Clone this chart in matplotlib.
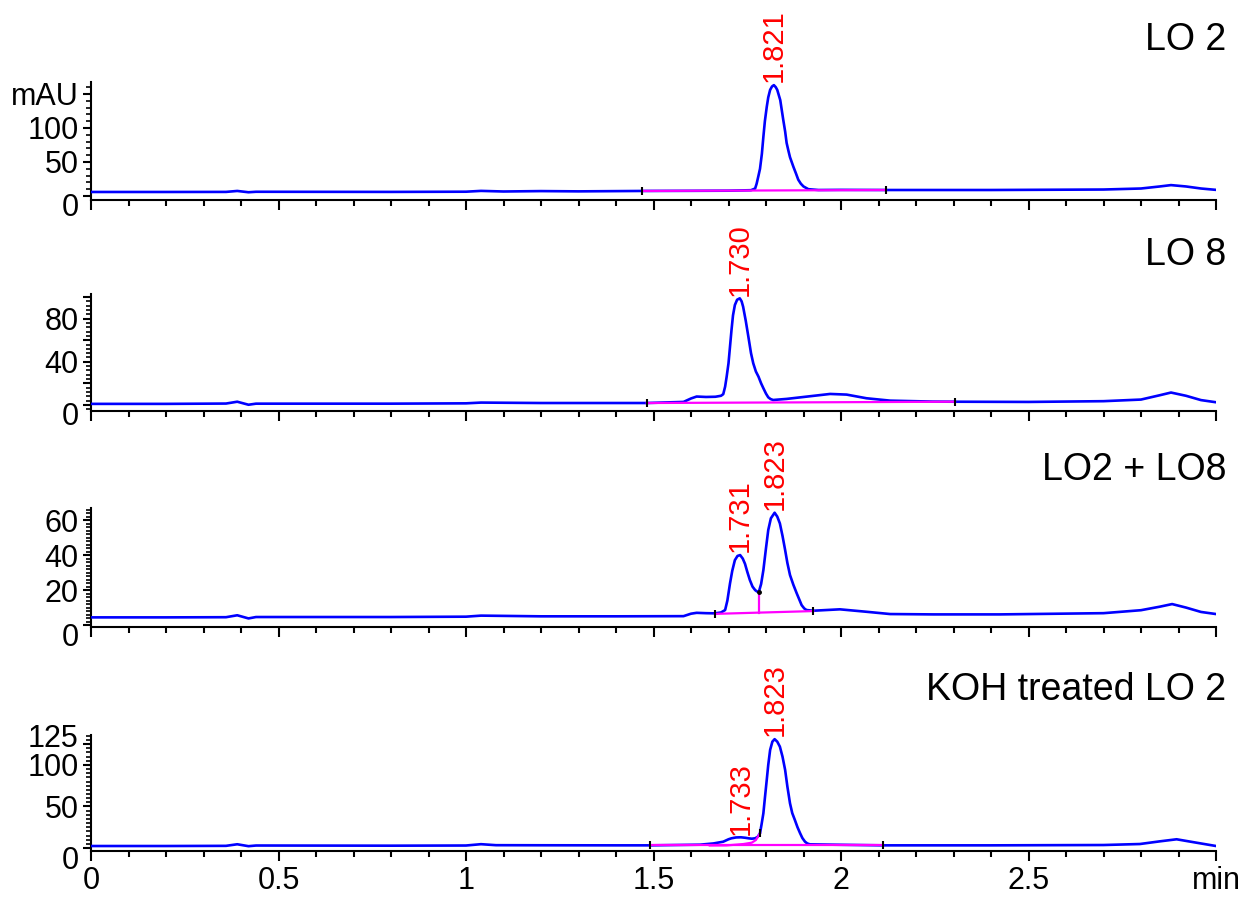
import numpy as np
import matplotlib.pyplot as plt
import matplotlib.transforms as mtransforms
from matplotlib.ticker import MultipleLocator

plt.rcParams['font.family'] = ['Liberation Sans', 'DejaVu Sans']

# ---------- chromatogram traces (time in min, signal in mAU) ----------
t_lo2 = [0.00, 0.20, 0.36, 0.39, 0.42, 0.44, 0.80, 1.00, 1.04, 1.10, 1.20, 1.30,
         1.47, 1.60, 1.70, 1.76, 1.771, 1.775, 1.780, 1.784, 1.789, 1.793, 1.797,
         1.802, 1.806, 1.811, 1.816, 1.821, 1.826, 1.830, 1.838, 1.846, 1.851,
         1.855, 1.860, 1.864, 1.873, 1.880, 1.886, 1.893, 1.900, 1.913, 1.94, 2.00,
         2.12, 2.40, 2.70, 2.80, 2.85, 2.88, 2.92, 2.96, 3.00]
y_lo2 = [5.9, 5.9, 6.0, 7.4, 5.5, 6.2, 6.0, 6.3, 7.5, 6.6, 7.2, 6.8,
         7.4, 7.6, 7.8, 8.5, 11.0, 18.0, 30.0, 40.0, 62.0, 87.0, 110.0,
         131.0, 145.0, 156.0, 161.0, 163.0, 160.0, 156.0, 141.0, 112.0, 95.0,
         78.0, 66.0, 57.0, 43.0, 33.0, 24.0, 18.0, 14.0, 10.0, 8.8, 9.0,
         8.8, 8.8, 9.5, 11.0, 14.0, 16.0, 14.0, 11.0, 9.0]

t_lo8 = [0.00, 0.20, 0.36, 0.39, 0.42, 0.44, 0.80, 1.00, 1.04, 1.20, 1.482, 1.580,
         1.600, 1.615, 1.640, 1.665, 1.680, 1.686, 1.691, 1.695, 1.700, 1.704,
         1.708, 1.712, 1.717, 1.723, 1.730, 1.735, 1.739, 1.746, 1.753, 1.760,
         1.766, 1.773, 1.780, 1.787, 1.793, 1.800, 1.806, 1.812, 1.819, 1.855,
         1.908, 1.971, 2.015, 2.068, 2.131, 2.246, 2.304, 2.50, 2.70, 2.80, 2.85,
         2.88, 2.92, 2.96, 3.00]
y_lo8 = [1.0, 1.0, 1.3, 3.0, 0.2, 1.2, 1.2, 1.5, 2.2, 1.8, 1.8, 2.8,
         6.0, 7.8, 7.4, 7.6, 8.5, 10.0, 17.0, 26.0, 38.6, 54.0,
         69.4, 83.0, 92.6, 97.5, 98.8, 96.0, 91.0, 78.0, 63.2, 48.0,
         38.6, 31.0, 26.2, 20.0, 15.5, 10.5, 7.1, 5.5, 4.6, 5.6,
         7.7, 10.2, 9.6, 6.2, 4.0, 3.1, 3.0, 2.8, 3.5, 5.0, 9.0,
         11.5, 8.5, 4.5, 2.5]

t_mix = [0.00, 0.20, 0.36, 0.39, 0.42, 0.44, 0.80, 1.00, 1.04, 1.20, 1.40, 1.580,
         1.600, 1.615, 1.640, 1.664, 1.680, 1.691, 1.697, 1.704, 1.710, 1.717,
         1.724, 1.731, 1.738, 1.744, 1.750, 1.757, 1.764, 1.771, 1.776, 1.781,
         1.787, 1.793, 1.800, 1.806, 1.813, 1.823, 1.830, 1.837, 1.844, 1.851,
         1.857, 1.864, 1.873, 1.882, 1.889, 1.895, 1.902, 1.908, 1.926,
         1.997, 2.068, 2.131, 2.246, 2.424, 2.70, 2.80, 2.85, 2.883, 2.92, 2.96, 3.00]
y_mix = [4.4, 4.4, 4.5, 5.6, 3.8, 4.6, 4.6, 4.8, 5.4, 5.0, 5.0, 5.1,
         6.5, 7.0, 6.8, 6.7, 7.2, 8.6, 14.0, 23.8, 31.0, 37.1,
         39.5, 40.0, 38.0, 35.0, 30.5, 25.7, 22.0, 20.0, 19.2, 19.0,
         23.5, 31.4, 44.0, 54.3, 61.0, 64.2, 62.0, 58.1, 51.0, 42.9,
         35.5, 28.6, 23.0, 18.1, 14.5, 11.4, 9.5, 8.6, 8.2,
         9.0, 7.6, 6.3, 6.1, 6.1, 6.8, 8.5, 10.5, 12.0, 10.0, 7.5, 6.3]

t_koh = [0.00, 0.20, 0.36, 0.39, 0.42, 0.44, 0.80, 1.00, 1.04, 1.08, 1.20, 1.40,
         1.491, 1.624, 1.660, 1.686, 1.700, 1.708, 1.720, 1.733, 1.745, 1.753,
         1.762, 1.771, 1.778, 1.784, 1.788, 1.793, 1.797, 1.802, 1.806, 1.811,
         1.817, 1.823, 1.830, 1.837, 1.844, 1.851, 1.857, 1.864, 1.870, 1.877,
         1.884, 1.891, 1.897, 1.904, 1.910, 1.917, 1.979,
         2.113, 2.40, 2.70, 2.797, 2.85, 2.895, 2.94, 3.00]
y_koh = [2.4, 2.4, 2.6, 4.5, 2.2, 3.0, 2.8, 3.0, 4.6, 3.4, 3.3, 3.2,
         3.2, 4.0, 5.5, 7.6, 10.5, 11.7, 12.7, 12.9, 12.3, 11.7,
         11.2, 11.7, 13.5, 17.7, 28.0, 41.8, 60.0, 82.0, 100.0, 118.0,
         128.0, 131.0, 128.0, 122.0, 110.0, 94.0, 74.0, 53.8, 42.0, 33.7,
         25.0, 17.7, 12.0, 7.6, 5.5, 4.4, 4.0,
         3.2, 3.2, 3.6, 4.8, 8.0, 10.5, 7.0, 2.4]

# integration baselines (magenta) and their end markers
base_lo2 = ([1.47, 2.12], [7.4, 8.8])
base_lo8 = ([1.482, 2.304], [1.8, 3.0])
base_mix = ([1.664, 1.926], [6.4, 8.0])
base_koh = ([1.491, 2.113], [3.2, 3.2])
skim_koh = ([1.650, 1.695, 1.740, 1.762, 1.773, 1.784], [3.0, 3.1, 4.8, 6.4, 9.6, 17.7])
drop_mix = (1.781, 7.1, 19.0)   # drop line: time, low, high

# retention times of labelled peaks
peaks_lo2 = [1.821]
peaks_lo8 = [1.730]
peaks_mix = [1.731, 1.823]
peaks_koh = [1.733, 1.823]

titles = ["LO 2", "LO 8", "LO2 + LO8", "KOH treated LO 2"]
x_ticks = [0, 0.5, 1, 1.5, 2, 2.5, 3.0]
x_ticklabels = ["0", "0.5", "1", "1.5", "2", "2.5", "min"]

# ---------- figure ----------
W, H = 1247, 897
fig = plt.figure(figsize=(W / 100, H / 100), dpi=100)

blue, magenta, red = "#0000FF", "#FF00FF", "#FF0000"

# (bottom px, top px, ylim, yticks, yticklabels, minor step)
panels = [
    (200, 82, (-5.9, 167.6), [0, 50, 100, 150], ["0", "50", "100", "mAU"], 10),
    (411, 294, (-5.6, 102.8), [0, 20, 40, 60, 80, 100], ["0", "", "40", "", "80", ""], 4),
    (627, 508, (-1.1, 66.9), [0, 20, 40, 60], ["0", "20", "40", "60"], 2),
    (851, 735, (-3.6, 136.0), [0, 50, 100, 125], ["0", "50", "100", "125"], 5),
]
traces = [(t_lo2, y_lo2), (t_lo8, y_lo8), (t_mix, y_mix), (t_koh, y_koh)]
bases = [base_lo2, base_lo8, base_mix, base_koh]
peaks = [peaks_lo2, peaks_lo8, peaks_mix, peaks_koh]
title_y = [40, 255, 470, 690]

x0, x1 = 91, 1216
zero_shift = mtransforms.ScaledTranslation(0, -9 / 100, fig.dpi_scale_trans)
top_shift = mtransforms.ScaledTranslation(0, 9 / 100, fig.dpi_scale_trans)

for i, (pb, pt, ylim, yt, ytl, mstep) in enumerate(panels):
    ax = fig.add_axes([x0 / W, 1 - pb / H, (x1 - x0) / W, (pb - pt) / H])
    t, y = traces[i]
    ax.plot(t, y, color=blue, lw=1.9, zorder=3, solid_joinstyle="round")

    bt, by = bases[i]
    ax.plot(bt, by, color=magenta, lw=1.6, zorder=4)
    ax.plot(bt, by, ls="none", marker="|", ms=6, mew=1.5, color="black", zorder=5)

    if i == 2:
        dt, dlo, dhi = drop_mix
        ax.plot([dt, dt], [dlo, dhi], color=magenta, lw=1.6, zorder=4)
        ax.plot([dt], [dhi], ls="none", marker="o", ms=2.5, color="black", zorder=5)
    if i == 3:
        ax.plot(skim_koh[0], skim_koh[1], color=magenta, lw=1.6, zorder=4)
        ax.plot([skim_koh[0][-1]], [skim_koh[1][-1]], ls="none", marker="|",
                ms=6, mew=1.5, color="black", zorder=5)

    # peak retention-time labels
    for rt in peaks[i]:
        h = np.interp(rt, t, y)
        ax.annotate(f"{rt:.3f}", (rt, h), xytext=(0, 2), textcoords="offset points",
                    rotation=90, ha="center", va="bottom", color=red,
                    fontsize=21, annotation_clip=False)

    ax.set_xlim(0, 3.0)
    ax.set_ylim(*ylim)
    for s in ("top", "right"):
        ax.spines[s].set_visible(False)
    for s in ("left", "bottom"):
        ax.spines[s].set_linewidth(1.5)

    ax.set_xticks(x_ticks)
    ax.xaxis.set_minor_locator(MultipleLocator(0.1))
    if i == 3:
        ax.set_xticklabels(x_ticklabels)
    else:
        ax.set_xticklabels([])
    ax.set_yticks(yt)
    ax.set_yticklabels(ytl)
    ax.yaxis.set_minor_locator(MultipleLocator(mstep))
    ax.tick_params(axis="x", which="major", direction="out", length=7, width=1.5,
                   labelsize=22, pad=4)
    ax.tick_params(axis="x", which="minor", direction="out", length=4, width=1.5)
    ax.tick_params(axis="y", which="major", direction="out", length=6, width=1.5,
                   labelsize=22, pad=3)
    ax.tick_params(axis="y", which="minor", direction="out", length=3.5, width=1.2)

    ticks = ax.yaxis.get_major_ticks()
    zero_lab = ticks[0].label1
    zero_lab.set_transform(zero_lab.get_transform() + zero_shift)
    if i == 3:
        top_lab = ticks[-1].label1
        top_lab.set_transform(top_lab.get_transform() + top_shift)

    fig.text(1226 / W, 1 - title_y[i] / H, titles[i], ha="right", va="center",
             fontsize=27)

fig.savefig("out.png", dpi=100)
